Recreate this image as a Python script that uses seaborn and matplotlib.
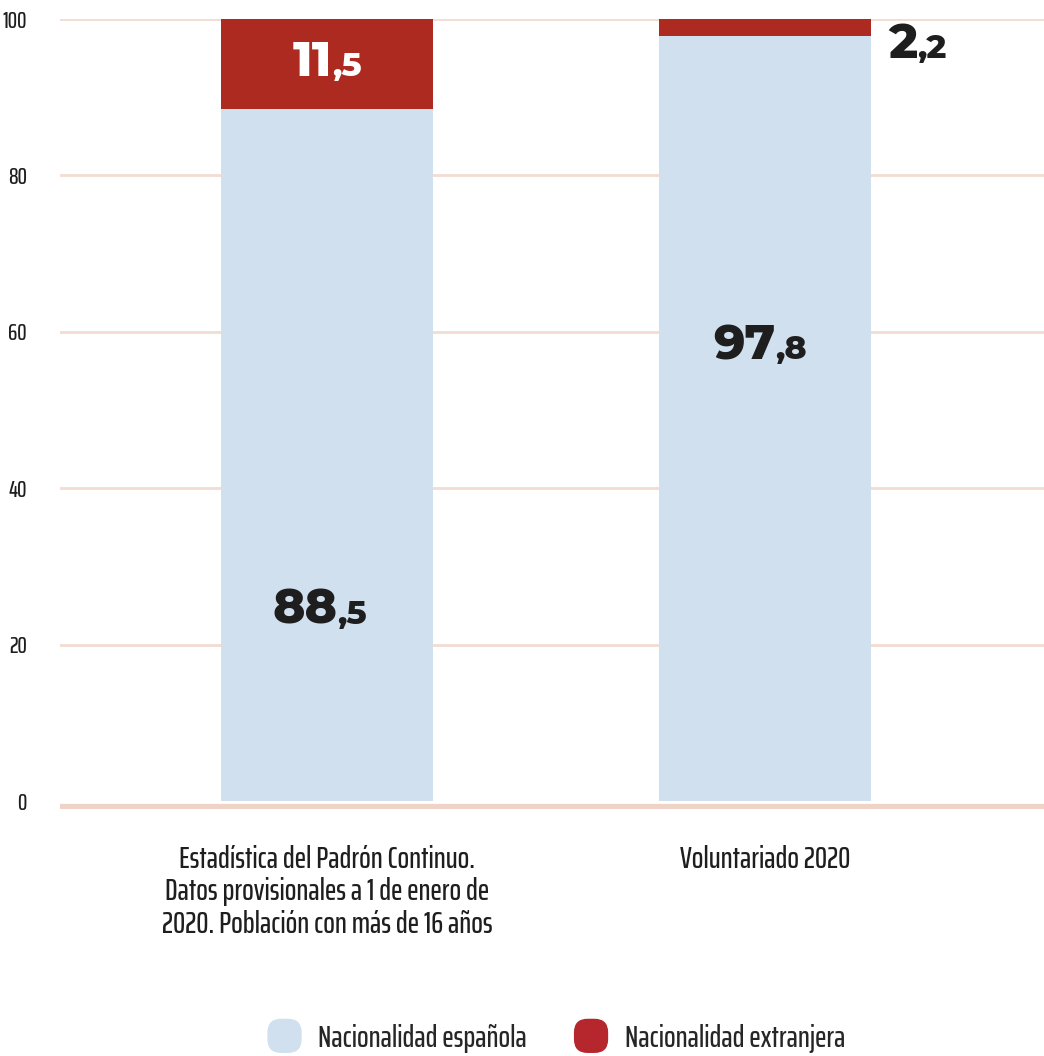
import matplotlib.pyplot as plt
import pandas as pd
import seaborn as sns
from matplotlib.legend_handler import HandlerPatch
from matplotlib.patches import FancyBboxPatch, Patch

CATEGORIES = [
    'Estadística del Padrón Continuo.\nDatos provisionales a 1 de enero de\n2020. Población con más de 16 años',
    'Voluntariado 2020',
]
ESPANOLA = [88.5, 97.8]
EXTRANJERA = [11.5, 2.2]
SERIES = ['Nacionalidad española', 'Nacionalidad extranjera']
Y_TICKS = [0, 20, 40, 60, 80, 100]

BLUE = '#d0e0ef'
RED = '#ad2a20'
RED_LEGEND = '#b5272d'
GRID = '#f3dcd2'
TEXT = '#1e1e1e'
NARROW = ['Saira ExtraCondensed', 'DejaVu Sans']
BOLD = ['Montserrat Alternates', 'DejaVu Sans']


class RoundHandler(HandlerPatch):
    def create_artists(self, legend, orig_handle, xdescent, ydescent,
                       width, height, fontsize, trans):
        size = height * 1.6
        x0 = width / 2 - size / 2 - xdescent
        y0 = height / 2 - size / 2 - ydescent
        p = FancyBboxPatch((x0, y0), size, size,
                           boxstyle=f'round,pad=0,rounding_size={size * 0.4}',
                           facecolor=orig_handle.get_facecolor(), edgecolor='none',
                           transform=trans)
        return [p]


def split_label(ax, x, y, value, color):
    big, small = f'{value:.1f}'.split('.')
    ax.text(x, y, big, ha='right', va='baseline', fontsize=35, color=color,
            family=BOLD, fontweight=800)
    ax.text(x, y, ',' + small, ha='left', va='baseline', fontsize=24, color=color,
            family=BOLD, fontweight=800)


def main():
    sns.set_style('white')
    plt.rcParams['font.family'] = NARROW
    plt.rcParams['font.weight'] = 500

    df = pd.DataFrame({
        'categoria': CATEGORIES,
        'espanola': ESPANOLA,
        'total': [a + b for a, b in zip(ESPANOLA, EXTRANJERA)],
    })

    fig = plt.figure(figsize=(10.44, 10.56), dpi=100)
    ax = fig.add_axes([0.0575, 0.234, 0.9425, 0.748])

    for y in Y_TICKS[1:]:
        ax.axhline(y, color=GRID, lw=2, zorder=0)

    sns.barplot(data=df, x='categoria', y='total', color=RED, width=0.484,
                saturation=1, linewidth=0, ax=ax, zorder=2)
    sns.barplot(data=df, x='categoria', y='espanola', color=BLUE, width=0.484,
                saturation=1, linewidth=0, ax=ax, zorder=3)
    ax.axhline(-0.7, color='#efd3c7', lw=4.5, zorder=4)

    ax.set_xlim(-0.61, 1.637)
    ax.set_ylim(-1.0, 100)
    ax.set_yticks(Y_TICKS)
    ax.set_yticklabels([str(t) for t in Y_TICKS], fontsize=17, color=TEXT)
    ax.tick_params(axis='y', length=0, pad=24)
    ax.tick_params(axis='x', length=0, pad=26)
    for t in ax.get_yticklabels():
        t.set_horizontalalignment('right')
    ax.set_xticks([0, 1])
    ax.set_xticklabels(CATEGORIES, fontsize=22, color=TEXT, linespacing=1.15,
                       va='top')
    ax.set_xlabel('')
    ax.set_ylabel('')
    sns.despine(ax=ax, left=True, bottom=True)

    # etiquetas de valor
    split_label(ax, 0.023, 22.7, ESPANOLA[0], TEXT)
    split_label(ax, 0.012, 92.7, EXTRANJERA[0], 'white')
    split_label(ax, 1.023, 56.5, ESPANOLA[1], TEXT)
    split_label(ax, 1.347, 95.0, EXTRANJERA[1], TEXT)

    handles = [Patch(facecolor=BLUE), Patch(facecolor=RED_LEGEND)]
    fig.legend(handles, SERIES, loc='center', bbox_to_anchor=(0.53, 0.017),
               ncol=2, frameon=False, fontsize=22, handler_map={Patch: RoundHandler()},
               handlelength=1.5, handletextpad=0.35, columnspacing=1.35)

    fig.savefig('out.png', dpi=100)


if __name__ == '__main__':
    main()
